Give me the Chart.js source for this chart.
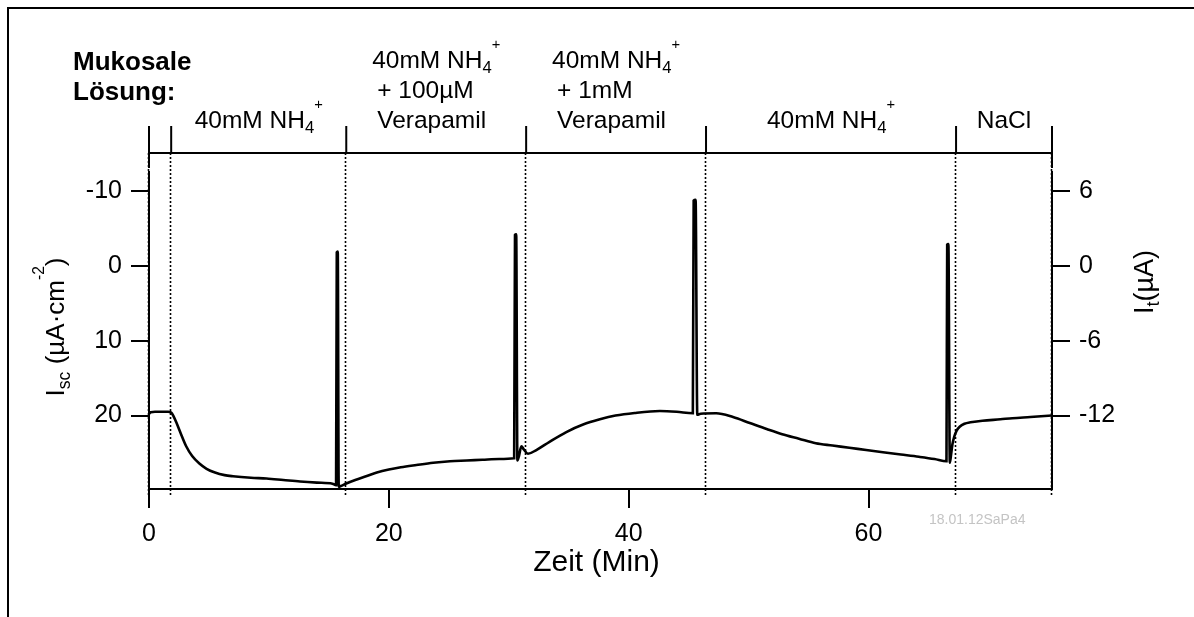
<!DOCTYPE html>
<html>
<head>
<meta charset="utf-8">
<script src="https://cdn.jsdelivr.net/npm/chart.js@4.4.1/dist/chart.umd.min.js"></script>
<style>
  html, body { margin: 0; padding: 0; background: #fff; }
  #wrap { width: 1194px; height: 617px; position: relative; }
</style>
</head>
<body>
<div id="wrap"><canvas id="c"></canvas></div>
<script>
// Short-circuit current trace (Ussing chamber), time in minutes
const timeMin = [
  0, 0.15, 0.5, 1.0, 1.6, 1.85, 2.05, 2.3, 2.6, 3.1, 3.6, 4.2, 4.8, 5.5, 6.3, 7.0, 8.5, 9.8, 11.2, 12.6, 14.0, 15.3, 15.6,
  15.66, 15.74, 15.82, 16.0, 16.4, 17.2, 18.1, 19.0, 20.0, 21.0, 22.3, 23.7, 25.1, 26.5, 27.8, 29.2, 30.45,
  30.52, 30.62, 30.72, 30.85, 31.05, 31.25, 31.6, 32.3, 33.4, 34.8, 36.2, 37.6, 38.9, 40.5, 42.6, 44.0, 45.35,
  45.42, 45.58, 45.72, 46.0, 47.3, 48.7, 50.1, 51.5, 52.8, 54.2, 55.6, 57.0, 58.4, 59.8, 61.2, 62.7, 64.2, 65.5, 66.5,
  66.56, 66.66, 66.78, 66.9, 67.0, 67.15, 67.35, 67.6, 68.0, 68.5, 69.5, 71.0, 72.0, 73.5, 75.3
];
const iscValues = [
  19.8, 19.55, 19.5, 19.5, 19.5, 19.6, 20.1, 21.0, 22.2, 24.1, 25.4, 26.4, 27.1, 27.6, 27.95, 28.1, 28.3, 28.4, 28.6, 28.8, 28.95, 29.1, 29.3,
  -1.8, -1.9, 29.5, 29.4, 29.1, 28.6, 28.1, 27.6, 27.2, 26.9, 26.6, 26.3, 26.1, 26.0, 25.9, 25.8, 25.7,
  -4.1, -4.2, 26.0, 25.4, 24.1, 24.5, 25.1, 24.6, 23.5, 22.2, 21.2, 20.5, 20.0, 19.65, 19.4, 19.5, 19.7,
  -8.7, -8.8, 19.9, 19.75, 19.7, 20.2, 21.0, 21.8, 22.5, 23.1, 23.7, 24.0, 24.3, 24.6, 24.9, 25.2, 25.5, 25.8, 26.1,
  -2.8, -2.9, 26.3, 25.0, 23.8, 22.8, 22.0, 21.5, 21.1, 20.9, 20.7, 20.5, 20.35, 20.2, 20.0
];

// Axis ticks
const xTicks = [0, 20, 40, 60];
const iscTicks = [-10, 0, 10, 20];
const itTicks = [-12, -6, 0, 6];

// Mucosal solution phases (start times) and their labels
const phaseStarts = [0, 1.85, 16.45, 31.45, 46.45, 67.3];
const phaseEnd = 75.3;
const phaseLabels = [
  '',
  '40mM NH_{4}^{+}',
  '40mM NH_{4}^{+}\n+ 100µM\nVerapamil',
  '40mM NH_{4}^{+}\n+ 1mM\nVerapamil',
  '40mM NH_{4}^{+}',
  'NaCl'
];
const solutionTitle = ['Mukosale', 'Lösung:'];
const xTitle = 'Zeit (Min)';
const yTitle = 'I_{sc} (µA·cm^{-2})';
const y2Title = 'I_{t}(µA)';
const stamp = '18.01.12SaPa4';

// Range of the Isc axis (reversed) and the factor to the transepithelial current axis
const iscMin = -12.5, iscMax = 29.8;
const itFactor = -0.6;

const FONT = '"Liberation Sans", Arial, Helvetica, sans-serif';

function parseRich(str) {
  const parts = [];
  str.split(/(_\{[^}]*\}|\^\{[^}]*\})/).forEach(p => {
    if (!p) return;
    if (p.startsWith('_{')) parts.push([p.slice(2, -1), 'sub']);
    else if (p.startsWith('^{')) parts.push([p.slice(2, -1), 'sup']);
    else parts.push([p, '']);
  });
  return parts;
}
function partFont(mode, size, weight) {
  const fs = mode === 'sub' ? size * 0.68 : mode === 'sup' ? size * 0.6 : size;
  return `${weight || 'normal'} ${fs}px ${FONT}`;
}
function richWidth(ctx, str, size, weight) {
  let w = 0;
  for (const [t, m] of parseRich(str)) { ctx.font = partFont(m, size, weight); w += ctx.measureText(t).width; }
  return w;
}
function drawRich(ctx, str, x, y, size, weight) {
  let cx = x;
  for (const [t, m] of parseRich(str)) {
    const dy = m === 'sub' ? size * 0.22 : m === 'sup' ? -size * 0.78 : 0;
    ctx.font = partFont(m, size, weight);
    ctx.fillText(t, cx, y + dy);
    cx += ctx.measureText(t).width;
  }
}

const decorations = {
  id: 'decorations',
  beforeDraw(chart) {
    const ctx = chart.ctx;
    ctx.save();
    ctx.fillStyle = '#fff';
    ctx.fillRect(0, 0, chart.width, chart.height);
    // outer frame (top and left edges)
    ctx.strokeStyle = '#000';
    ctx.lineWidth = 2;
    ctx.beginPath();
    ctx.moveTo(8, chart.height);
    ctx.lineTo(8, 8);
    ctx.lineTo(chart.width, 8);
    ctx.stroke();
    ctx.restore();
  },
  beforeDatasetsDraw(chart) {
    const ctx = chart.ctx, xs = chart.scales.x, area = chart.chartArea;
    const bracketY = 153;
    ctx.save();
    // dotted phase boundaries
    ctx.strokeStyle = '#000';
    ctx.lineWidth = 1.6;
    ctx.setLineDash([2, 2]);
    const bounds = phaseStarts.concat([phaseEnd]);
    bounds.forEach(t => {
      const px = Math.round(xs.getPixelForValue(t)) - 0.5;
      ctx.beginPath();
      ctx.moveTo(px, bracketY);
      ctx.lineTo(px, area.bottom + 6);
      ctx.stroke();
    });
    ctx.restore();
  },
  afterDraw(chart) {
    const ctx = chart.ctx, xs = chart.scales.x, area = chart.chartArea;
    const bracketY = 153;
    ctx.save();
    ctx.strokeStyle = '#000';
    ctx.fillStyle = '#000';
    ctx.lineWidth = 2;
    // phase bracket
    const bounds = phaseStarts.concat([phaseEnd]);
    ctx.beginPath();
    ctx.moveTo(xs.getPixelForValue(0) - 1, bracketY);
    ctx.lineTo(xs.getPixelForValue(phaseEnd) + 1, bracketY);
    bounds.forEach((t, i) => {
      const px = xs.getPixelForValue(t);
      const edge = i === 0 || i === bounds.length - 1;
      ctx.moveTo(px, 126);
      ctx.lineTo(px, edge ? 168 : bracketY);
    });
    ctx.stroke();

    // phase labels
    ctx.textBaseline = 'alphabetic';
    ctx.textAlign = 'left';
    const fs = 24.5;
    phaseLabels.forEach((lab, i) => {
      if (!lab) return;
      const a = xs.getPixelForValue(phaseStarts[i]);
      const b = xs.getPixelForValue(i + 1 < phaseStarts.length ? phaseStarts[i + 1] : phaseEnd);
      const mid = (a + b) / 2;
      const lines = lab.split('\n');
      lines.forEach((ln, k) => {
        const baseY = 128 - 30 * (lines.length - 1 - k);
        const x = k === 0 ? mid - richWidth(ctx, ln, fs) / 2 : mid - 59;
        drawRich(ctx, ln, x, baseY, fs);
      });
    });

    // solution title
    ctx.font = `bold 26px ${FONT}`;
    ctx.fillText(solutionTitle[0], 73, 70);
    ctx.fillText(solutionTitle[1], 73, 100);

    // x title
    ctx.font = `30px ${FONT}`;
    ctx.textAlign = 'center';
    ctx.textBaseline = 'middle';
    ctx.fillText(xTitle, (area.left + area.right) / 2 - 4, 563);

    // y titles (rotated)
    ctx.textAlign = 'left';
    ctx.textBaseline = 'alphabetic';
    const yfs = 26;
    ctx.save();
    ctx.translate(64, 327);
    ctx.rotate(-Math.PI / 2);
    drawRich(ctx, yTitle, -richWidth(ctx, yTitle, yfs) / 2, 0, yfs);
    ctx.restore();
    ctx.save();
    ctx.translate(1153, 282);
    ctx.rotate(-Math.PI / 2);
    drawRich(ctx, y2Title, -richWidth(ctx, y2Title, 27) / 2, 0, 27);
    ctx.restore();

    // recording stamp
    ctx.fillStyle = '#c4c4c4';
    ctx.font = `14px ${FONT}`;
    ctx.textAlign = 'left';
    ctx.textBaseline = 'middle';
    ctx.fillText(stamp, 929, 520);
    ctx.restore();
  }
};

const tickFont = { family: FONT, size: 25 };
const axisLine = { display: true, color: '#000', width: 2 };

new Chart(document.getElementById('c'), {
  type: 'line',
  data: {
    datasets: [{
      data: timeMin.map((t, i) => ({ x: t, y: iscValues[i] })),
      yAxisID: 'y',
      borderColor: '#000',
      borderWidth: 2.6,
      pointRadius: 0,
      cubicInterpolationMode: 'monotone',
      fill: false
    }]
  },
  options: {
    responsive: true,
    maintainAspectRatio: false,
    animation: false,
    devicePixelRatio: 1,
    layout: { padding: { top: 172, left: 0, right: 0, bottom: 0 } },
    plugins: { legend: { display: false }, tooltip: { enabled: false } },
    scales: {
      x: {
        type: 'linear',
        position: 'bottom',
        min: 0,
        max: phaseEnd,
        afterBuildTicks: s => { s.ticks = xTicks.map(v => ({ value: v })); },
        afterFit: s => { s.height = 128; },
        ticks: { color: '#000', font: tickFont, padding: 11, maxRotation: 0 },
        grid: { drawOnChartArea: false, drawTicks: true, tickLength: 19, lineWidth: 2, color: '#000' },
        border: axisLine
      },
      y: {
        type: 'linear',
        position: 'left',
        reverse: true,
        min: iscMin,
        max: iscMax,
        afterBuildTicks: s => { s.ticks = iscTicks.map(v => ({ value: v })); },
        afterFit: s => { s.width = 149; },
        ticks: { color: '#000', font: tickFont, padding: 9 },
        grid: { drawOnChartArea: false, drawTicks: true, tickLength: 18, lineWidth: 2, color: '#000' },
        border: axisLine
      },
      y2: {
        type: 'linear',
        position: 'right',
        display: true,
        min: iscMax * itFactor,
        max: iscMin * itFactor,
        afterBuildTicks: s => { s.ticks = itTicks.map(v => ({ value: v })); },
        afterFit: s => { s.width = 142; },
        ticks: { color: '#000', font: tickFont, padding: 9 },
        grid: { drawOnChartArea: false, drawTicks: true, tickLength: 18, lineWidth: 2, color: '#000' },
        border: axisLine
      }
    }
  },
  plugins: [decorations]
});
</script>
</body>
</html>
